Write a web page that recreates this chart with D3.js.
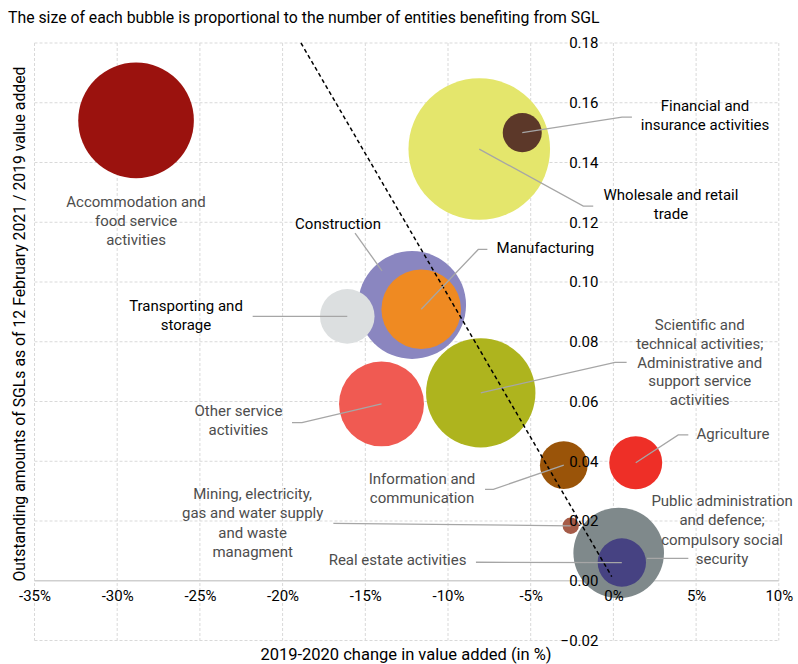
<!DOCTYPE html>
<html>
<head>
<meta charset="utf-8">
<script src="https://cdn.jsdelivr.net/npm/d3@7"></script>
<style>
  html, body { margin: 0; padding: 0; background: #fff; }
  svg { display: block; font-family: Roboto, "Open Sans", sans-serif; }
</style>
</head>
<body>
<svg id="chart" width="798" height="664"></svg>
<script>
// ---------------- DATA ----------------
const categories = [
  "Accommodation and food service activities",
  "Wholesale and retail trade",
  "Financial and insurance activities",
  "Construction",
  "Manufacturing",
  "Transporting and storage",
  "Other service activities",
  "Scientific and technical activities; Administrative and support service activities",
  "Information and communication",
  "Mining, electricity, gas and water supply and waste managment",
  "Agriculture",
  "Public administration and defence; compulsory social security",
  "Real estate activities"
];
// 2019-2020 change in value added (in %)
const valueAddedChange = [-28.86, -8.11, -5.51, -12.17, -11.62, -16.09, -14.02, -8.02, -3.00, -2.58, 1.35, 0.32, 0.51];
// Outstanding SGLs (12 Feb 2021) / 2019 value added
const sglRatio = [0.1541, 0.1445, 0.1500, 0.0923, 0.0909, 0.0885, 0.0592, 0.0629, 0.0387, 0.0184, 0.0395, 0.0093, 0.0061];
// Number of entities benefiting from SGL (relative, estimated)
const entities = [100, 150, 11.4, 87, 47.4, 22.3, 54, 89.5, 17, 2.0, 21, 61.4, 17.5];

const xTicks = [-35, -30, -25, -20, -15, -10, -5, 0, 5, 10];
const yTicks = [-0.02, 0.00, 0.02, 0.04, 0.06, 0.08, 0.10, 0.12, 0.14, 0.16, 0.18];

// dashed reference line (data coordinates)
const refLineX = [-18.89, -0.10];
const refLineY = [0.18, 0.0014];

// ---------------- STYLES / LAYOUT ----------------
const palette = ["#9b120e", "#e4e66c", "#5c3829", "#8a86c0", "#ef8a22", "#dcdfe0",
                 "#f05a52", "#aeb41e", "#9a5409", "#a55b48", "#ee2f27", "#7f898b", "#464282"];

// label layout: text lines, first-line anchor (data coords), line height (px), dark flag, leader polyline (data coords; "c" = bubble centre)
const labelLayout = [
  { lines: ["Accommodation and", "food service", "activities"], at: [-28.86, 0.1268], lh: 19, dark: false, leader: null },
  { lines: ["Wholesale and retail", "trade"], at: [3.48, 0.1291], lh: 19, dark: true, leader: ["c", [-1.82, 0.1254], [-1.22, 0.1254]] },
  { lines: ["Financial and", "insurance activities"], at: [5.54, 0.1590], lh: 19, dark: true, leader: ["c", [0.52, 0.1552], [1.12, 0.1552]] },
  { lines: ["Construction"], at: [-16.65, 0.1194], lh: 19, dark: true, leader: [[-15.62, 0.1164], [-13.99, 0.1037]] },
  { lines: ["Manufacturing"], at: [-4.11, 0.1114], lh: 19, dark: true, leader: ["c", [-8.17, 0.1109], [-7.62, 0.1109]] },
  { lines: ["Transporting and", "storage"], at: [-25.84, 0.0920], lh: 19, dark: true, leader: [[-21.81, 0.0885], "c"] },
  { lines: ["Other service", "activities"], at: [-22.67, 0.0568], lh: 19, dark: false, leader: [[-19.43, 0.0529], [-18.83, 0.0529], "c"] },
  { lines: ["Scientific and", "technical activities;", "Administrative and", "support service", "activities"], at: [5.22, 0.0856], lh: 18.7, dark: false, leader: ["c", [0.10, 0.0731], [0.80, 0.0731]] },
  { lines: ["Information and", "communication"], at: [-11.57, 0.0342], lh: 19, dark: false, leader: [[-7.76, 0.0306], [-7.26, 0.0306], "c"] },
  { lines: ["Mining, electricity,", "gas and water supply", "and waste", "managment"], at: [-21.81, 0.0291], lh: 19.4, dark: false, leader: [[-16.93, 0.0192], "c"] },
  { lines: ["Agriculture"], at: [7.23, 0.0491], lh: 19, dark: false, leader: ["c", [3.92, 0.0488], [4.53, 0.0488]] },
  { lines: ["Public administration", "and defence;", "compulsory social", "security"], at: [6.57, 0.0269], lh: 19.5, dark: false, leader: [[2.03, 0.0075], [4.53, 0.0075]] },
  { lines: ["Real estate activities"], at: [-13.05, 0.0069], lh: 19, dark: false, leader: [[-8.31, 0.0062], "c"] }
];

// ---------------- CHART ----------------
const svg = d3.select("#chart");

const x = d3.scaleLinear().domain([-35, 10]).range([34.5, 778.8]);
const y = d3.scaleLinear().domain([-0.02, 0.18]).range([640.5, 43]);
const r = d3.scaleSqrt().domain([0, 150]).range([0, 70.8]);

const data = categories.map((c, i) => ({
  name: c, x: valueAddedChange[i], y: sglRatio[i], size: entities[i], color: palette[i], label: labelLayout[i]
}));

// grid
const grid = svg.append("g").attr("class", "grid");
grid.selectAll("line.v").data(xTicks).join("line")
  .attr("x1", d => x(d)).attr("x2", d => x(d))
  .attr("y1", y(0.18)).attr("y2", y(-0.02))
  .attr("stroke", "#d9d9d9").attr("stroke-width", 1).attr("stroke-dasharray", "3,2");
grid.selectAll("line.h").data(yTicks.filter(d => d !== 0)).join("line")
  .attr("x1", x(-35)).attr("x2", x(10))
  .attr("y1", d => y(d)).attr("y2", d => y(d))
  .attr("stroke", "#d9d9d9").attr("stroke-width", 1).attr("stroke-dasharray", "3,2");

// x axis line at y = 0
svg.append("line")
  .attr("x1", x(-35)).attr("x2", x(10))
  .attr("y1", y(0)).attr("y2", y(0))
  .attr("stroke", "#cfcfcf").attr("stroke-width", 1.5);

// bubbles (largest first)
const sorted = data.slice().sort((a, b) => b.size - a.size);
svg.append("g").selectAll("circle").data(sorted).join("circle")
  .attr("cx", d => x(d.x)).attr("cy", d => y(d.y)).attr("r", d => r(d.size))
  .attr("fill", d => d.color);

// dashed reference line
svg.append("line")
  .attr("x1", x(refLineX[0])).attr("y1", y(refLineY[0]))
  .attr("x2", x(refLineX[1])).attr("y2", y(refLineY[1]))
  .attr("stroke", "#000").attr("stroke-width", 1.5).attr("stroke-dasharray", "4,3");

// leaders
const lineGen = d3.line().x(p => p[0]).y(p => p[1]);
svg.append("g").selectAll("path").data(data.filter(d => d.label.leader)).join("path")
  .attr("d", d => lineGen(d.label.leader.map(p => p === "c" ? [x(d.x), y(d.y)] : [x(p[0]), y(p[1])])))
  .attr("fill", "none").attr("stroke", "#a6a6a6").attr("stroke-width", 1.3);

// axes
const xAxis = svg.append("g").attr("transform", `translate(0,${y(0)})`)
  .call(d3.axisBottom(x).tickValues(xTicks).tickSize(0).tickPadding(10).tickFormat(d => d + "%"));
xAxis.select(".domain").remove();
xAxis.selectAll("text").attr("font-size", 15).attr("fill", "#000").attr("font-family", "Roboto, sans-serif");

const yAxis = svg.append("g").attr("transform", `translate(${x(0)},0)`)
  .call(d3.axisLeft(y).tickValues(yTicks).tickSize(0).tickPadding(15).tickFormat(d3.format(".2f")));
yAxis.select(".domain").remove();
yAxis.selectAll("text").attr("font-size", 15).attr("fill", "#000").attr("font-family", "Roboto, sans-serif");

// labels
const lbl = svg.append("g").selectAll("text").data(data).join("text")
  .attr("text-anchor", "middle")
  .attr("font-size", 15)
  .attr("fill", d => d.label.dark ? "#000" : "#4d4d4d")
  .attr("x", d => x(d.label.at[0]))
  .attr("y", d => y(d.label.at[1]));
lbl.selectAll("tspan").data(d => d.label.lines.map((t, i) => ({ t, i, d }))).join("tspan")
  .attr("x", e => x(e.d.label.at[0]))
  .attr("dy", e => e.i === 0 ? "0.35em" : e.d.label.lh)
  .text(e => e.t);

// title
svg.append("text").attr("x", 8).attr("y", 23)
  .attr("font-size", 15.8).attr("fill", "#000")
  .text("The size of each bubble is proportional to the number of entities benefiting from SGL");

// axis titles
svg.append("text").attr("x", 406).attr("y", 660).attr("text-anchor", "middle")
  .attr("font-size", 16.5).attr("fill", "#000")
  .text("2019-2020 change in value added (in %)");

svg.append("text").attr("transform", `translate(25,324) rotate(-90)`).attr("text-anchor", "middle")
  .attr("font-size", 15.8).attr("fill", "#000")
  .text("Outstanding amounts of SGLs as of 12 February 2021 / 2019 value added");
</script>
</body>
</html>
